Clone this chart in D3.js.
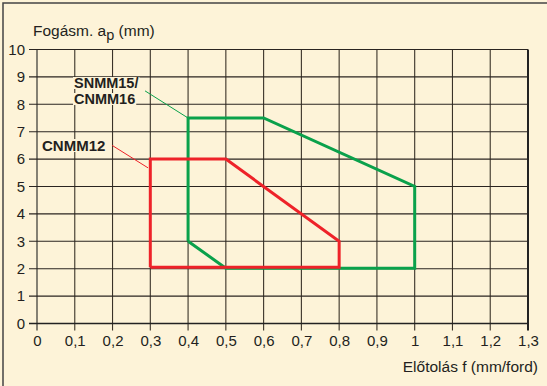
<!DOCTYPE html>
<html><head><meta charset="utf-8">
<script src="https://cdn.jsdelivr.net/npm/d3@7"></script>
<style>body{margin:0;background:#fdf3d8;}svg{display:block;}</style>
</head><body>
<svg id="c" width="547" height="386"></svg>
<script>
const xTicks = [0,0.1,0.2,0.3,0.4,0.5,0.6,0.7,0.8,0.9,1,1.1,1.2,1.3];
const yTicks = [0,1,2,3,4,5,6,7,8,9,10];
const redF = [0.3,0.3,0.5,0.8,0.8,0.3];
const redAp = [2.05,6,6,3,2.05,2.05];
const greenF = [0.4,0.4,0.6,1.0,1.0,0.5,0.4];
const greenAp = [3,7.5,7.5,5,2.02,2.02,3];
const redLeader = [[0.199,6.5],[0.294,5.68]];
const greenLeader = [[0.286,8.49],[0.4,7.5]];

const svg = d3.select("#c");
const W=547,H=386;
svg.append("rect").attr("width",W).attr("height",H).attr("fill","#fdf3d8");
svg.append("path").attr("d",`M3,${H} V3 H${W}`).attr("fill","none").attr("stroke","#444").attr("stroke-width",1.5);

const x = d3.scaleLinear().domain([0,1.3]).range([37,528]);
const y = d3.scaleLinear().domain([0,10]).range([323.5,49.5]);
const font = "'Liberation Sans', Arial, sans-serif";

const g = svg.append("g");
xTicks.forEach(t=>{
  g.append("line").attr("x1",x(t)).attr("x2",x(t)).attr("y1",y(10)).attr("y2",y(0)+7)
   .attr("stroke", t===0||t===1.3?"#222":"#3a3228").attr("stroke-width", t===1.3?2:1.1);
});
yTicks.forEach(t=>{
  g.append("line").attr("x1",x(0)-8).attr("x2",x(1.3)).attr("y1",y(t)).attr("y2",y(t))
   .attr("stroke", t===0?"#222":"#2a2420").attr("stroke-width", t===0?1.6:1.1);
});
const fmt = d => d3.format(",.1~f")(d).replace(".",",");
const xa = svg.append("g").attr("transform",`translate(0,${y(0)+9})`)
  .call(d3.axisBottom(x).tickValues(xTicks).tickSize(0).tickPadding(3).tickFormat(fmt));
xa.select(".domain").remove();
xa.selectAll("text").attr("font-family",font).attr("font-size",15).attr("fill","#231f20");
const ya = svg.append("g").attr("transform",`translate(${x(0)-8},0)`)
  .call(d3.axisLeft(y).tickValues(yTicks).tickSize(0).tickPadding(4).tickFormat(d3.format("d")));
ya.select(".domain").remove();
ya.selectAll("text").attr("font-family",font).attr("font-size",15).attr("fill","#231f20");

svg.append("text").attr("x",33).attr("y",36).attr("font-family",font).attr("font-size",15.5).attr("fill","#231f20")
  .html('Fogásm. a<tspan dy="4" font-size="14.5">p</tspan><tspan dy="-4"> (mm)</tspan>');
svg.append("text").attr("x",538).attr("y",372).attr("text-anchor","end").attr("font-family",font).attr("font-size",15.5).attr("fill","#231f20")
  .text("Előtolás f (mm/ford)");

const line = d3.line().x(d=>x(d[0])).y(d=>y(d[1]));
svg.append("path").attr("d",line(greenF.map((f,i)=>[f,greenAp[i]]))).attr("fill","none")
  .attr("stroke","#0aa14b").attr("stroke-width",3).attr("stroke-linejoin","miter");
svg.append("path").attr("d",line(redF.map((f,i)=>[f,redAp[i]]))).attr("fill","none")
  .attr("stroke","#ee2229").attr("stroke-width",3).attr("stroke-linejoin","miter");
svg.append("path").attr("d",line(greenLeader)).attr("stroke","#0aa14b").attr("stroke-width",1).attr("fill","none");
svg.append("path").attr("d",line(redLeader)).attr("stroke","#ee2229").attr("stroke-width",1).attr("fill","none");

const lg = svg.append("g");
function label(lines, xx, yy, fs, lh){
  lines.forEach((s,i)=>{
    const bg = lg.append("rect").attr("fill","#fdf3d8");
    const t = lg.append("text").attr("x",xx).attr("y",yy+i*lh).attr("font-family",font)
      .attr("font-weight","bold").attr("font-size",fs).attr("fill","#231f20").text(s);
    const bb = t.node().getBBox();
    bg.attr("x",bb.x-1).attr("y",bb.y+2).attr("width",bb.width+2).attr("height",bb.height-4);
  });
}
label(["SNMM15/","CNMM16"],74,88,14.5,16);
label(["CNMM12"],42,151,15,16);
</script>
</body></html>
